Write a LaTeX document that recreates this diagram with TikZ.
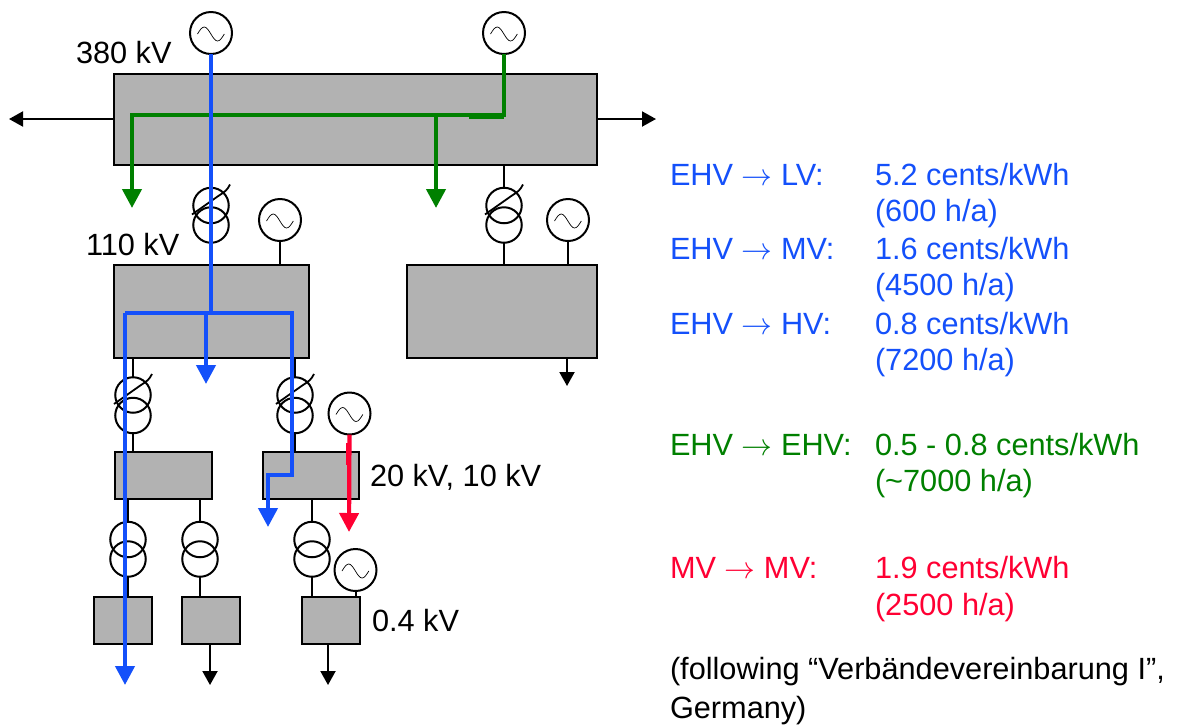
\documentclass[tikz,border=0pt]{standalone}
\usepackage{fontspec}
\setmainfont{Liberation Sans}
\usetikzlibrary{arrows.meta,calc}
\definecolor{flowblue}{RGB}{20,80,250}
\definecolor{flowgreen}{RGB}{0,128,0}
\definecolor{flowred}{RGB}{255,0,51}
\definecolor{busgray}{RGB}{178,178,178}
\newcommand{\tap}[1]{\draw[thin line] ($(#1)+(-19,9)$) -- ($(#1)+(8,-10)$) .. controls ($(#1)+(14,-14)$) and ($(#1)+(16,-15)$) .. ($(#1)+(19,-21)$);}
\newcommand{\toarrow}{\scalebox{1.24}{$\rightarrow$}}

\begin{document}
\begin{tikzpicture}[
    x=1pt, y=-1pt,
    thin line/.style={line width=1.8pt},
    every node/.style={outer sep=0pt, inner sep=0pt},
    bus/.style={rectangle, draw, line width=2pt, fill=busgray},
    gen/.style={circle, draw, line width=2pt, minimum size=42pt,
        path picture={\draw[line width=.7pt] (path picture bounding box.center)
            ++(-13.5,1) sin ++(6.7,-7) cos ++(6.7,7) sin ++(6.7,7) cos ++(6.7,-7);}},
    winding/.style={circle, draw, line width=2pt, minimum size=35.5pt},
    wire/.style={line width=2pt},
    load/.style={wire, -{Triangle[length=14pt,width=15pt]}},
    flow/.style={line width=4.2pt, -{Triangle[length=19pt,width=19pt]}},
    lbl/.style={anchor=base west, font=\fontsize{30.7}{35}\selectfont},
    ]
\useasboundingbox (0,0) rectangle (1177,724);

%Busbars
\foreach \name/\cx/\cy/\w/\h in {
    ehv/355.5/119.5/483/91,
    hvl/211.5/311.5/195/93, hvr/502/311.5/190/93,
    mvl/163/475.5/97/47, mvr/311/475.5/96/47,
    lva/123/620.5/58/47, lvb/211/620.5/58/47, lvc/331/620.5/58/47}
    \node[bus, minimum width=\w pt, minimum height=\h pt] (\name) at (\cx,\cy) {};

%Generators
\foreach \name/\cx/\cy in {
    gena/211/33, genb/504/33, genc/280/220, gend/568/220,
    gene/349.5/413.5, genf/355.5/570}
    \node[gen] (\name) at (\cx,\cy) {};

%Transformers, upper and lower winding
\foreach \name/\cx/\cy/\d in {
    ta/211/205.5/19.5, tb/504/205.5/19.5, tc/133/395/20.5, td/295/395/20.5,
    te/128/539.5/19.5, tf/200/539.5/19.5, tg/312/539.5/19.5}{
    \node[winding] (\name u) at (\cx,\cy) {};
    \node[winding] (\name l) at (\cx,\cy+\d) {};
}
\foreach \name in {tau, tbu, tcu, tdu}{
    \tap{\name}
}

%Stubs
\draw[wire] (gena.south) -- (ehv.north -| gena);
\draw[wire] (genb.south) -- (ehv.north -| genb);
\draw[wire] (ehv.south -| tau) -- (tau.north);
\draw[wire] (ehv.south -| tbu) -- (tbu.north);
\draw[wire] (tal.south) -- (hvl.north -| tal);
\draw[wire] (tbl.south) -- (hvr.north -| tbl);
\draw[wire] (genc.south) -- (hvl.north -| genc);
\draw[wire] (gend.south) -- (hvr.north -| gend);
\draw[wire] (hvl.south -| tcu) -- (tcu.north);
\draw[wire] (hvl.south -| tdu) -- (tdu.north);
\draw[wire] (tcl.south) -- (mvl.north -| tcl);
\draw[wire] (tdl.south) -- (mvr.north -| tdl);
\draw[wire] (mvl.south -| teu) -- (teu.north);
\draw[wire] (mvl.south -| tfu) -- (tfu.north);
\draw[wire] (mvr.south -| tgu) -- (tgu.north);
\draw[wire] (tel.south) -- (lva.north -| tel);
\draw[wire] (tfl.south) -- (lvb.north -| tfl);
\draw[wire] (tgl.south) -- (lvc.north -| tgl);
\draw[wire] (genf.south) -- (lvc.north -| genf);

%Loads
\coordinate (westend) at (9,119);
\coordinate (eastend) at (656,119);
\coordinate (hvrout) at (567,386);
\coordinate (lvbout) at (210,685);
\coordinate (lvcout) at (328,685);
\draw[load] (ehv.west |- westend) -- (westend);
\draw[load] (ehv.east |- eastend) -- (eastend);
\draw[load] (hvr.south -| hvrout) -- (hvrout);
\draw[load] (lvb.south -| lvbout) -- (lvbout);
\draw[load] (lvc.south -| lvcout) -- (lvcout);

%Green flow
\coordinate (greenknee) at (504,115);
\coordinate (greenwest) at (132,115);
\coordinate (greenmid) at (436,115);
\coordinate (greenwestout) at (132,208);
\coordinate (greenmidout) at (436,208);
\coordinate (greenjoga) at (469,117);
\coordinate (greenjogb) at (504,117);
\draw[flow, flowgreen] (genb.south) -- (greenknee) -- (greenwest) -- (greenwestout);
\draw[flow, flowgreen] (greenmid) -- (greenmidout);
\draw[line width=4.2pt, flowgreen] (greenjoga) -- (greenjogb);

%Blue flow
\coordinate (bluetop) at (211,313);
\coordinate (bluewest) at (125,313);
\coordinate (blueeast) at (292,313);
\coordinate (bluemid) at (206,313);
\coordinate (bluewestout) at (125,685);
\coordinate (bluemidout) at (206,384);
\coordinate (bluestep) at (292,475);
\coordinate (bluestepb) at (268,475);
\coordinate (blueeastout) at (268,527);
\draw[line width=4.2pt, flowblue] (gena.south) -- (bluetop);
\draw[flow, flowblue] (bluewest) -- (bluewestout);
\draw[flow, flowblue] (bluemid) -- (bluemidout);
\draw[flow, flowblue] (bluewest) -- (blueeast) -- (bluestep) -- (bluestepb) -- (blueeastout);

%Red flow
\coordinate (redjoga) at (348.3,443);
\coordinate (redjogb) at (348.3,465);
\coordinate (redout) at (349,532);
\draw[flow, flowred] (gene.south) -- (redout);
\draw[line width=4.2pt, flowred] (redjoga) -- (redjogb);

%Voltage levels
\node[lbl] (lblehv) at (76,63) {380 kV};
\node[lbl] (lblhv) at (86,255) {110 kV};
\node[lbl] (lblmv) at (370,486) {20 kV, 10 kV};
\node[lbl] (lbllv) at (372,631) {0.4 kV};

%Prices
\foreach \name/\rowy/\hue/\what/\price in {
    pa/185/flowblue/{EHV \toarrow{} LV:}/{5.2 cents/kWh},
    pb/259/flowblue/{EHV \toarrow{} MV:}/{1.6 cents/kWh},
    pc/334/flowblue/{EHV \toarrow{} HV:}/{0.8 cents/kWh},
    pd/455/flowgreen/{EHV \toarrow{} EHV:}/{0.5 - 0.8 cents/kWh},
    pe/578/flowred/{MV \toarrow{} MV:}/{1.9 cents/kWh}}{
    \node[lbl, text=\hue] (\name what) at (670,\rowy) {\what};
    \node[lbl, text=\hue] (\name price) at (875,\rowy) {\price};
}
\node[lbl, text=flowblue] (pahours) at (875,221) {(600 h/a)};
\node[lbl, text=flowblue] (pbhours) at (875,295) {(4500 h/a)};
\node[lbl, text=flowblue] (pchours) at (875,370) {(7200 h/a)};
\node[lbl, text=flowgreen] (pdhours) at (875,491) {(\textasciitilde7000 h/a)};
\node[lbl, text=flowred] (pehours) at (875,615) {(2500 h/a)};
\node[lbl] (srca) at (670,679) {(following “Verbändevereinbarung I”,};
\node[lbl] (srcb) at (670,718) {Germany)};
\end{tikzpicture}
\end{document}
